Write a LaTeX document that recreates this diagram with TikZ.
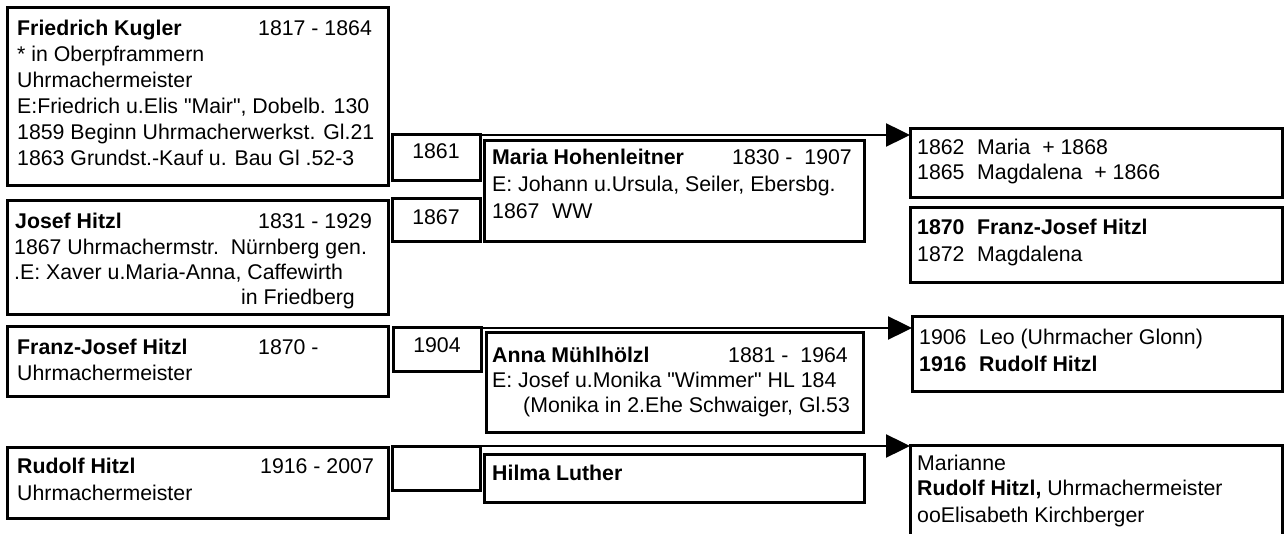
\documentclass[tikz,border=0pt]{standalone}
\usepackage{fontspec}
\setmainfont{Liberation Sans}[Ligatures=TeXOff]
\usetikzlibrary{arrows.meta}
\tikzset{
  bx/.style={draw, line width=3pt, inner sep=0pt, outer sep=0pt, anchor=north west},
  tx/.style={inner sep=0pt, anchor=base west, font=\fontsize{21.3}{26}\selectfont},
  txc/.style={inner sep=0pt, anchor=base, font=\fontsize{21.3}{26}\selectfont},
  lnk/.style={line width=2.4pt, -{Triangle[length=24pt,width=23pt]}},
}
\newcommand\pbox[5]{\node[bx, minimum width={(#4)-(#2)}, minimum height={(#5)-(#3)}] (#1) at (#2,#3) {};}
\newcommand\col[1]{\makebox[60pt][l]{#1}}
\begin{document}
\begin{tikzpicture}[x=1pt,y=-1pt]
\clip (0,0) rectangle (1285,534);
% left column
\pbox{fk}{7}{8}{388}{186}
\node[tx] (fk1) at (17,36) {\bfseries Friedrich Kugler};
\node[tx] (fk2) at (258,36) {1817 - 1864};
\node[tx] (fk3) at (17,62) {* in Oberpframmern};
\node[tx] (fk4) at (17,88) {Uhrmachermeister};
\node[tx] (fk5) at (17,114) {E:Friedrich u.Elis "Mair", Dobelb. 130};
\node[tx] (fk6) at (17,140) {1859 Beginn Uhrmacherwerkst. Gl.21};
\node[tx] (fk7) at (17,166) {1863 Grundst.-Kauf u. Bau Gl .52-3};

\pbox{jh}{7}{201}{388}{315}
\node[tx] (jh1) at (15,229) {\bfseries Josef Hitzl};
\node[tx] (jh2) at (258,229) {1831 - 1929};
\node[tx] (jh3) at (14,255) {1867 Uhrmachermstr.\ \ Nürnberg gen.};
\node[tx] (jh4) at (14,280) {.E: Xaver u.Maria-Anna, Caffewirth};
\node[tx] (jh5) at (241,305) {in Friedberg};

\pbox{fj}{7}{327}{388}{397}
\node[tx] (fj1) at (17,355) {\bfseries Franz-Josef Hitzl};
\node[tx] (fj2) at (258,355) {1870 -};
\node[tx] (fj3) at (17,381) {Uhrmachermeister};

\pbox{rh}{7}{447}{388}{518}
\node[tx] (rh1) at (17,473) {\bfseries Rudolf Hitzl};
\node[tx] (rh2) at (260,473) {1916 - 2007};
\node[tx] (rh3) at (17,500) {Uhrmachermeister};

% year boxes
\pbox{y1861}{392}{135}{480}{181}
\node[txc] (y1861t) at (436,159) {1861};
\pbox{y1867}{392}{199}{480}{242}
\node[txc] (y1867t) at (436,225) {1867};
\pbox{y1904}{393}{328}{481}{372}
\node[txc] (y1904t) at (437,353) {1904};
\pbox{yempty}{392}{446}{480}{490}

% spouses
\pbox{mh}{484}{141}{864}{242}
\node[tx] (mh1) at (492,165) {\bfseries Maria Hohenleitner};
\node[tx] (mh2) at (732,165) {1830 -\ \ 1907};
\node[tx] (mh3) at (492,192) {E: Johann u.Ursula, Seiler, Ebersbg.};
\node[tx] (mh4) at (492,219) {\col{1867}WW};

\pbox{am}{486}{333}{863}{432}
\node[tx] (am1) at (492,363) {\bfseries Anna Mühlhölzl};
\node[tx] (am2) at (728,363) {1881 -\ \ 1964};
\node[tx] (am3) at (492,388) {E: Josef u.Monika "Wimmer" HL 184};
\node[tx] (am4) at (523,413) {(Monika in 2.Ehe Schwaiger, Gl.53};

\pbox{hl}{484}{454}{864}{502}
\node[tx] (hl1) at (492,480) {\bfseries Hilma Luther};

% children
\pbox{c1}{910}{129}{1282}{198}
\node[tx] (c1a) at (917,155) {\col{1862}Maria\ \ + 1868};
\node[tx] (c1b) at (917,180) {\col{1865}Magdalena\ \ + 1866};

\pbox{c2}{910}{208}{1282}{283}
\node[tx] (c2a) at (917,235) {\bfseries\col{1870}Franz-Josef Hitzl};
\node[tx] (c2b) at (917,262) {\col{1872}Magdalena};

\pbox{c3}{912}{317}{1282}{392}
\node[tx] (c3a) at (919,345) {\col{1906}Leo (Uhrmacher Glonn)};
\node[tx] (c3b) at (919,372) {\bfseries\col{1916}Rudolf Hitzl};

\pbox{c4}{910}{445}{1282}{550}
\node[tx] (c4a) at (917,470) {Marianne};
\node[tx] (c4b) at (917,495) {{\bfseries Rudolf Hitzl,} Uhrmachermeister};
\node[tx] (c4c) at (917,522) {ooElisabeth Kirchberger};

% connectors
\draw[lnk] (y1861.north west) -- (y1861.north west -| c1.west);
\draw[lnk] (y1904.north west) -- (y1904.north west -| c3.west);
\draw[lnk] (yempty.north west) -- (yempty.north west -| c4.west);
\end{tikzpicture}
\end{document}
